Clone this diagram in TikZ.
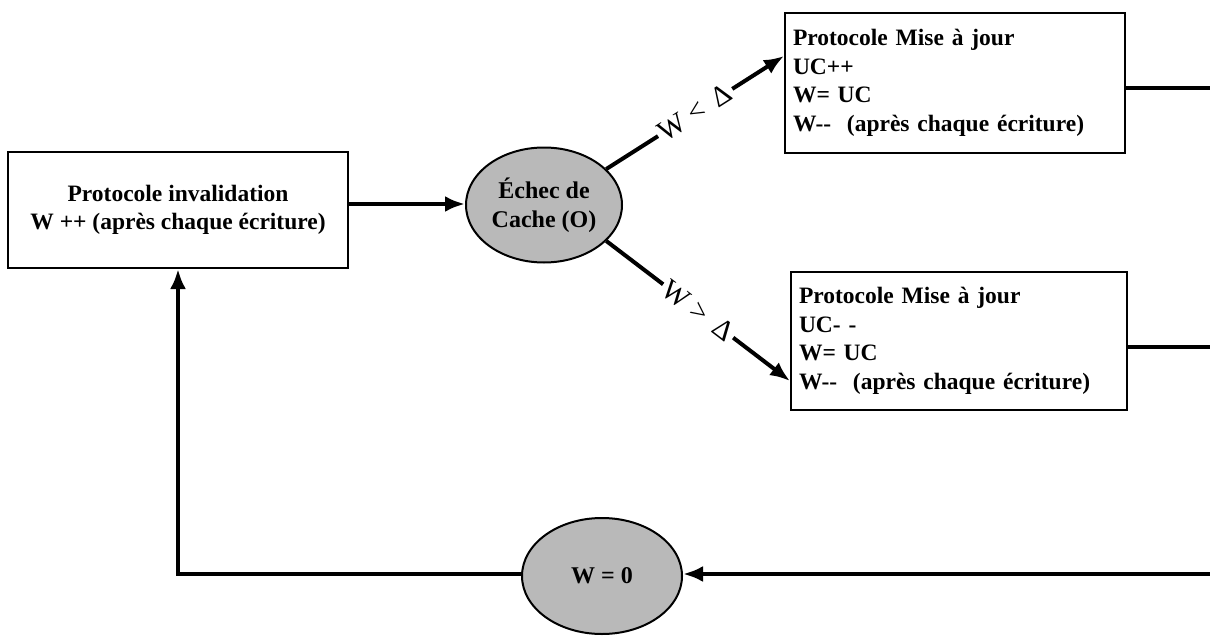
\documentclass[tikz,border=0pt]{standalone}
\usepackage{fontspec}
\setmainfont{Liberation Serif}
\usetikzlibrary{shapes.geometric,arrows.meta}
\begin{document}
\begin{tikzpicture}[x=1pt,y=-1pt,
  box/.style={draw,line width=2pt,font=\bfseries\fontsize{23.5}{28.5}\selectfont,inner sep=0pt},
  blob/.style={ellipse,draw,line width=2pt,fill=gray!55,inner sep=0pt,font=\bfseries\fontsize{24}{29}\selectfont,align=center},
  conn/.style={line width=4pt},
  arr/.style={conn,-{Latex[length=20pt,width=16pt]}},
  lab/.style={fill=white,font=\fontsize{29}{30}\selectfont,inner sep=3pt,sloped}]
\useasboundingbox (0,0) rectangle (1210,637);
\node[box,minimum width=340pt,minimum height=116pt,align=center] (inv) at (178,210)
  {Protocole invalidation\\W ++ (après chaque écriture)};
\node[blob,minimum width=156pt,minimum height=115pt] (e1) at (544,205) {Échec de\\Cache (O)};
\node[box,minimum width=340pt,minimum height=140pt,text width=324pt,align=left] (up) at (955,83)
  {Protocole Mise à jour\\UC++\\W= UC\\W-{}-\ \ (après chaque écriture)};
\node[box,minimum width=336pt,minimum height=138pt,text width=320pt,align=left] (dn) at (959,341)
  {Protocole Mise à jour\\UC- -\\W= UC\\W-{}-\ \ (après chaque écriture)};
\node[blob,minimum width=160pt,minimum height=116pt] (e2) at (602,576) {W = 0};
\coordinate (c1) at (1210,88);
\coordinate (c2) at (1210,347);
\coordinate (c3) at (1210,574);
\draw[arr] (inv.east |- 0,204) -- (e1.west |- 0,204);
\draw[arr] (e1.30) -- node[lab]{W < \,Δ} (up.west |- 0,56);
\draw[arr] (e1.-30) -- node[lab]{W > \,Δ} (dn.west |- 0,381);
\draw[conn] (up.east |- c1) -- (c1);
\draw[conn] (dn.east |- c2) -- (c2);
\draw[arr] (c3) -- (e2.east |- c3);
\draw[arr] (e2.west |- c3) -| (inv.south);
\end{tikzpicture}
\end{document}
